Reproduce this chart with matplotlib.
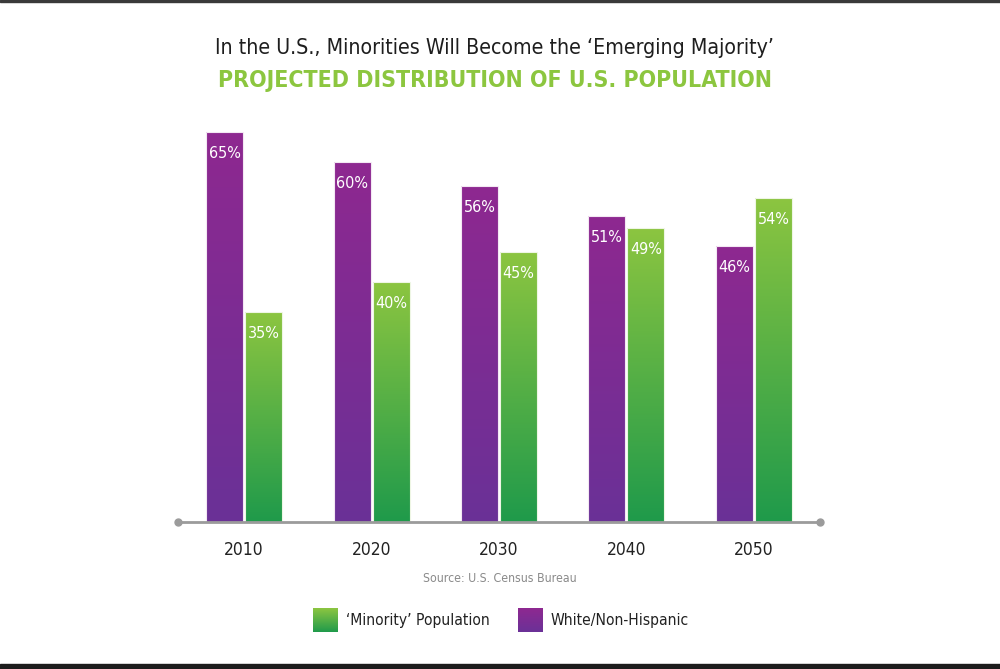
import numpy as np
import matplotlib
matplotlib.use("Agg")
import matplotlib.pyplot as plt
from matplotlib import font_manager
from matplotlib.patches import Patch, Rectangle
from matplotlib.colors import LinearSegmentedColormap
from matplotlib.legend_handler import HandlerBase

# data
years = ["2010", "2020", "2030", "2040", "2050"]
white = [65, 60, 56, 51, 46]
minority = [35, 40, 45, 49, 54]

title1 = "In the U.S., Minorities Will Become the \u2018Emerging Majority\u2019"
title2 = "PROJECTED DISTRIBUTION OF U.S. POPULATION"
source = "Source: U.S. Census Bureau"
leg_labels = ["\u2018Minority\u2019 Population", "White/Non-Hispanic"]

# look for a condensed face, the original uses a narrow font
FONT, STRETCH, k = "DejaVu Sans", "normal", 0.82
for f in font_manager.fontManager.ttflist:
    if "Narrow" in f.name or "Condensed" in f.fname:
        FONT, STRETCH, k = f.name, f.stretch, 1.0
        break
plt.rcParams["font.family"] = [FONT, "DejaVu Sans"]
plt.rcParams["font.stretch"] = STRETCH

purple_cm = LinearSegmentedColormap.from_list("p", ["#6a3197", "#8e2890"])
green_cm = LinearSegmentedColormap.from_list("g", ["#1f9a4b", "#8cc540"])


class GradHandler(HandlerBase):
    # legend square filled with horizontal strips going bottom -> top
    def __init__(self, cmap, n=24):
        super().__init__()
        self.cmap, self.n = cmap, n

    def create_artists(self, legend, orig, xd, yd, width, height, fontsize, trans):
        out = []
        for i in range(self.n):
            out.append(Rectangle((-xd, -yd + height * i / self.n), width,
                                 height / self.n * 1.05,
                                 facecolor=self.cmap((i + 0.5) / self.n),
                                 edgecolor="none", transform=trans))
        return out


fig = plt.figure(figsize=(10, 6.69), dpi=100)
ax = fig.add_axes([0.174, 0.2197, 0.65, 0.6278])

x = np.arange(len(years))
w = 0.29
off = 0.153

b1 = ax.bar(x - off, white, w, color="none", edgecolor="#f3e8f3", linewidth=0.8, zorder=3)
b2 = ax.bar(x + off, minority, w, color="none", edgecolor="#eef6e4", linewidth=0.8, zorder=3)

grad = np.linspace(0, 1, 256).reshape(-1, 1)
for bars, cm in ((b1, purple_cm), (b2, green_cm)):
    for b in bars:
        x0 = b.get_x()
        im = ax.imshow(grad, cmap=cm, origin="lower", aspect="auto",
                       extent=[x0, x0 + b.get_width(), 0, b.get_height()],
                       zorder=2)
        im.set_clip_path(b)

for bars, vals in ((b1, white), (b2, minority)):
    for b, v in zip(bars, vals):
        ax.text(b.get_x() + b.get_width() / 2, v - 3.5, f"{v}%",
                ha="center", va="center", color="white", fontsize=11.5 * k)

# baseline with end dots
ax.plot([-0.52, 4.52], [0, 0], color="#9b9b9b", lw=2, zorder=4,
        marker="o", markersize=5, clip_on=False)

ax.set_xlim(-0.55, 4.55)
ax.set_ylim(0, 70)
ax.set_xticks(x)
ax.set_xticklabels(years, fontsize=12.5 * k, color="#222222", fontweight="medium")
ax.tick_params(axis="x", length=0, pad=14)
ax.set_yticks([])
for s in ax.spines.values():
    s.set_visible(False)
ax.patch.set_alpha(0)

fig.text(0.494, 0.928, title1, ha="center", va="center", fontsize=15.3 * k, color="#1e1e1e")
fig.text(0.495, 0.880, title2, ha="center", va="center", fontsize=16.6 * k,
         color="#8cc63f", fontweight="bold")
fig.text(0.500, 0.136, source, ha="center", va="center", fontsize=8.8 * k, color="#8a8a8a")

h_min = Patch(facecolor="#55b045")
h_wht = Patch(facecolor="#7c2c93")
fs_leg = 11.2 * k
fig.legend([h_min, h_wht], leg_labels, loc="center", bbox_to_anchor=(0.501, 0.073), ncol=2,
           frameon=False, fontsize=fs_leg, handlelength=1.6, handleheight=2.0,
           columnspacing=1.85, handletextpad=0.5, labelcolor="#222222",
           handler_map={h_min: GradHandler(green_cm), h_wht: GradHandler(purple_cm)})

# dark frame lines of the original image
fig.patches.append(Rectangle((0, 0.997), 1, 0.003, transform=fig.transFigure,
                             color="#3a3a3a", zorder=10))
fig.patches.append(Rectangle((0, 0), 1, 0.0075, transform=fig.transFigure,
                             color="#1c1c1c", zorder=10))

fig.savefig("out.png", dpi=100)
